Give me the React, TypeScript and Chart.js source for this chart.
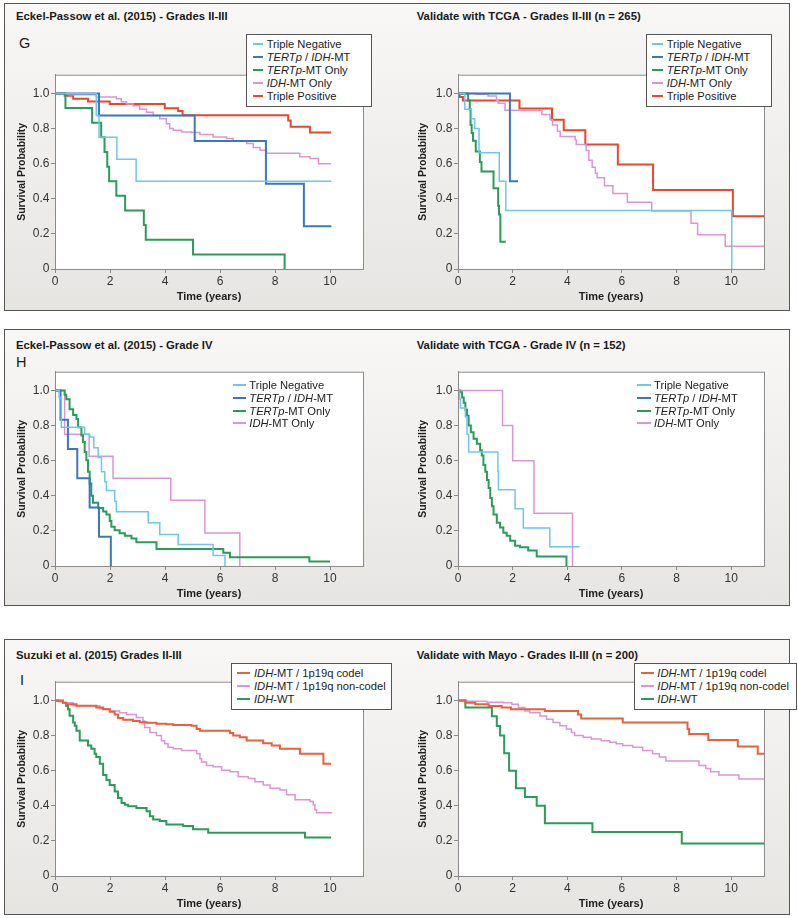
import React, { useEffect, useRef } from 'react';
import { Chart, registerables } from 'chart.js';

Chart.register(...registerables);

const FONT = '"Liberation Sans", Arial, Helvetica, sans-serif';

// ---- colours ----
const C_LIGHTBLUE = '#6fc6e8';
const C_DARKBLUE = '#3b78b8';
const C_GREEN = '#2a9b58';
const C_PINK = '#dc95d4';
const C_RED = '#e8472e';
const C_ORANGE = '#e8603c';

// ---- axis ticks ----
const xTickValues = [0, 2, 4, 6, 8, 10];
const yTickValues = [0, 0.2, 0.4, 0.6, 0.8, 1.0];
const xMax = 11.2;
const yMax = 1.107;
const xAxisTitle = 'Time (years)';
const yAxisTitle = 'Survival Probability';

// ---- titles / legends ----
const titleGL = 'Eckel-Passow et al. (2015) - Grades II-III';
const titleGR = 'Validate with TCGA - Grades II-III (n = 265)';
const titleHL = 'Eckel-Passow et al. (2015) - Grade IV';
const titleHR = 'Validate with TCGA - Grade IV (n = 152)';
const titleIL = 'Suzuki et al. (2015) Grades II-III';
const titleIR = 'Validate with Mayo - Grades II-III (n = 200)';
const legendGH = ['Triple Negative', '_TERTp_ / _IDH_-MT', '_TERTp_-MT Only', '_IDH_-MT Only', 'Triple Positive'];
const legendI = ['_IDH_-MT / 1p19q codel', '_IDH_-MT / 1p19q non-codel', '_IDH_-WT'];

// ---- G left: Eckel-Passow Grades II-III ----
const gL_tripleNegative = [[0, 1], [1.5, 0.875], [1.6, 0.75], [2.25, 0.625], [2.95, 0.5], [10.05, 0.5]];
const gL_tertpIdh = [[0, 1], [1.6, 0.875], [5.08, 0.729], [7.67, 0.486], [9.05, 0.243], [10.05, 0.243]];
const gL_tertpOnly = [[0, 1], [0.38, 0.917], [1.35, 0.833], [1.68, 0.75], [1.8, 0.667], [1.9, 0.583], [1.97, 0.5], [2.23, 0.417], [2.55, 0.333], [3.23, 0.25], [3.3, 0.167], [5.02, 0.083], [8.35, 0]];
const gL_idhOnly = [[0, 1], [0.53, 0.993], [1.5, 0.98], [2.23, 0.97], [2.41, 0.953], [2.6, 0.94], [2.84, 0.93], [3.08, 0.91], [3.33, 0.893], [3.57, 0.874], [3.81, 0.856], [4.05, 0.827], [4.17, 0.8], [4.3, 0.79], [4.6, 0.78], [4.96, 0.777], [5.27, 0.767], [5.75, 0.752], [6.24, 0.743], [6.48, 0.728], [6.97, 0.715], [7.21, 0.692], [7.45, 0.677], [7.69, 0.659], [8.9, 0.64], [9.27, 0.63], [9.58, 0.6], [10.04, 0.6]];
const gL_triplePositive = [[0, 1], [0.35, 0.987], [0.66, 0.97], [1.2, 0.955], [1.99, 0.94], [3.99, 0.916], [4.48, 0.9], [4.64, 0.876], [8.48, 0.846], [8.57, 0.81], [9.27, 0.778], [10.04, 0.778]];

// ---- G right: TCGA Grades II-III ----
const gR_tripleNegative = [[0, 1], [0.25, 0.91], [0.49, 0.856], [0.61, 0.8], [0.77, 0.662], [1.51, 0.5], [1.75, 0.333], [10.02, 0.333], [10.02, 0]];
const gR_tertpIdh = [[0, 1], [1.9, 0.5], [2.2, 0.5]];
const gR_tertpOnly = [[0, 1], [0.37, 0.96], [0.43, 0.91], [0.46, 0.82], [0.5, 0.775], [0.55, 0.73], [0.65, 0.67], [0.8, 0.61], [0.86, 0.556], [1.3, 0.46], [1.47, 0.36], [1.5, 0.31], [1.55, 0.155], [1.75, 0.155]];
const gR_idhOnly = [[0, 1], [0.67, 0.995], [1.1, 0.985], [1.41, 0.96], [1.47, 0.945], [1.72, 0.905], [3.07, 0.88], [3.37, 0.85], [3.46, 0.82], [3.64, 0.785], [3.74, 0.755], [4.29, 0.735], [4.33, 0.71], [4.69, 0.675], [4.79, 0.62], [4.91, 0.58], [5.03, 0.545], [5.09, 0.52], [5.36, 0.475], [5.67, 0.43], [6.2, 0.38], [7.09, 0.33], [8.53, 0.26], [8.77, 0.195], [9.78, 0.13], [11.2, 0.13]];
const gR_triplePositive = [[0, 1], [0.06, 0.98], [0.18, 0.96], [2.25, 0.915], [3.44, 0.85], [3.87, 0.79], [4.66, 0.71], [5.85, 0.595], [7.14, 0.45], [10.06, 0.3], [11.2, 0.3]];

// ---- H left: Eckel-Passow Grade IV ----
const hL_tripleNegative = [[0, 1], [0.15, 0.96], [0.23, 0.79], [1.08, 0.75], [1.26, 0.735], [1.41, 0.674], [1.57, 0.618], [1.69, 0.537], [1.81, 0.48], [1.87, 0.43], [2.17, 0.369], [2.23, 0.309], [3.39, 0.247], [3.81, 0.18], [4.48, 0.122], [5.75, 0.06], [6.18, 0]];
const hL_tertpIdh = [[0, 1], [0.2, 0.833], [0.47, 0.667], [0.81, 0.5], [1.26, 0.333], [1.6, 0.167], [2.03, 0]];
const hL_tertpOnly = [[0, 1], [0.35, 0.975], [0.41, 0.95], [0.53, 0.893], [0.66, 0.86], [0.78, 0.837], [0.84, 0.79], [0.96, 0.743], [1.02, 0.706], [1.08, 0.65], [1.14, 0.603], [1.2, 0.537], [1.26, 0.47], [1.32, 0.4], [1.38, 0.36], [1.57, 0.33], [1.75, 0.31], [1.87, 0.294], [1.99, 0.257], [2.05, 0.223], [2.17, 0.204], [2.35, 0.187], [2.54, 0.172], [2.78, 0.157], [2.96, 0.135], [3.69, 0.097], [6.12, 0.075], [6.36, 0.05], [9.25, 0.026], [10.0, 0.026]];
const hL_idhOnly = [[0, 1], [0.35, 0.75], [1.24, 0.625], [2.11, 0.5], [4.21, 0.375], [5.45, 0.1875], [6.72, 0]];

// ---- H right: TCGA Grade IV ----
const hR_tripleNegative = [[0, 1], [0.06, 0.95], [0.09, 0.9], [0.27, 0.85], [0.33, 0.75], [0.39, 0.65], [1.46, 0.54], [1.48, 0.435], [2.09, 0.326], [2.39, 0.217], [3.36, 0.109], [4.45, 0.109]];
const hR_tertpIdh = [];
const hR_tertpOnly = [[0, 1], [0.08, 0.99], [0.15, 0.96], [0.21, 0.93], [0.27, 0.89], [0.33, 0.856], [0.39, 0.8], [0.47, 0.762], [0.57, 0.725], [0.69, 0.697], [0.81, 0.66], [0.87, 0.63], [0.93, 0.575], [1.0, 0.537], [1.06, 0.49], [1.12, 0.444], [1.18, 0.388], [1.24, 0.34], [1.3, 0.294], [1.42, 0.247], [1.54, 0.219], [1.66, 0.19], [1.78, 0.172], [1.91, 0.144], [2.09, 0.116], [2.27, 0.107], [2.57, 0.088], [2.88, 0.054], [3.97, 0]];
const hR_idhOnly = [[0, 1], [1.63, 0.8], [2.0, 0.6], [2.78, 0.3], [4.19, 0]];

// ---- I left: Suzuki Grades II-III ----
const iL_codel = [[0, 1], [0.11, 0.995], [0.29, 0.987], [0.41, 0.978], [0.78, 0.97], [1.5, 0.96], [1.75, 0.95], [1.99, 0.936], [2.17, 0.92], [2.29, 0.9], [2.48, 0.89], [2.84, 0.883], [3.08, 0.876], [3.33, 0.873], [3.69, 0.867], [4.05, 0.865], [4.3, 0.86], [4.96, 0.856], [5.15, 0.837], [5.27, 0.828], [6.36, 0.815], [6.48, 0.8], [6.72, 0.79], [6.97, 0.772], [7.57, 0.757], [7.88, 0.743], [8.18, 0.725], [8.91, 0.697], [9.76, 0.64], [10.04, 0.64]];
const iL_nonCodel = [[0, 1], [0.29, 0.987], [0.66, 0.97], [1.63, 0.953], [1.99, 0.94], [2.35, 0.93], [2.6, 0.92], [2.96, 0.903], [3.2, 0.883], [3.26, 0.846], [3.45, 0.818], [3.69, 0.8], [3.87, 0.77], [3.99, 0.753], [4.11, 0.734], [4.3, 0.725], [4.6, 0.715], [5.15, 0.697], [5.27, 0.668], [5.33, 0.65], [5.51, 0.63], [5.75, 0.622], [6.06, 0.603], [6.36, 0.594], [6.66, 0.566], [7.03, 0.556], [7.27, 0.537], [7.57, 0.519], [7.82, 0.5], [8.18, 0.49], [8.42, 0.463], [8.73, 0.434], [9.27, 0.425], [9.39, 0.406], [9.45, 0.378], [9.51, 0.36], [10.04, 0.355]];
const iL_wt = [[0, 1], [0.29, 0.987], [0.41, 0.968], [0.47, 0.95], [0.53, 0.913], [0.66, 0.874], [0.72, 0.856], [0.78, 0.828], [0.9, 0.772], [1.2, 0.743], [1.32, 0.725], [1.44, 0.697], [1.5, 0.678], [1.63, 0.64], [1.75, 0.575], [1.87, 0.547], [1.99, 0.519], [2.17, 0.481], [2.29, 0.444], [2.42, 0.416], [2.54, 0.406], [2.66, 0.397], [2.96, 0.388], [3.33, 0.369], [3.45, 0.341], [3.57, 0.322], [3.81, 0.313], [4.05, 0.294], [4.66, 0.285], [5.02, 0.266], [5.57, 0.247], [9.09, 0.219], [10.04, 0.219]];

// ---- I right: Mayo Grades II-III ----
const iR_codel = [[0, 1], [0.27, 0.987], [0.63, 0.978], [1.12, 0.968], [1.6, 0.96], [1.94, 0.95], [3.18, 0.94], [4.39, 0.92], [4.51, 0.897], [6.03, 0.874], [8.4, 0.837], [8.46, 0.809], [9.16, 0.775], [10.24, 0.738], [10.97, 0.697], [11.2, 0.697]];
const iR_nonCodel = [[0, 1], [0.33, 0.996], [1.06, 0.99], [1.66, 0.987], [1.97, 0.978], [2.21, 0.96], [2.45, 0.94], [2.63, 0.93], [3.0, 0.912], [3.24, 0.893], [3.48, 0.874], [3.73, 0.856], [3.97, 0.837], [4.15, 0.818], [4.27, 0.8], [4.58, 0.79], [4.88, 0.78], [5.24, 0.77], [5.55, 0.762], [5.79, 0.753], [6.03, 0.743], [6.4, 0.734], [6.76, 0.715], [7.12, 0.697], [7.37, 0.678], [7.61, 0.655], [8.82, 0.63], [9.07, 0.612], [9.25, 0.594], [9.55, 0.575], [10.28, 0.552], [11.2, 0.552]];
const iR_wt = [[0, 1], [0.27, 0.96], [1.24, 0.91], [1.42, 0.855], [1.54, 0.8], [1.69, 0.7], [1.87, 0.6], [2.12, 0.5], [2.45, 0.45], [2.88, 0.4], [3.18, 0.3], [4.92, 0.25], [8.19, 0.185], [11.2, 0.185]];

const colorsGH = [C_LIGHTBLUE, C_DARKBLUE, C_GREEN, C_PINK, C_RED];
const widthsGH = [1.5, 2, 2, 1.5, 2];
const colorsI = [C_ORANGE, C_PINK, C_GREEN];
const widthsI = [2, 1.5, 2];

const PADL = 52;
const PADT = 6;
const PADR = 8;
const XH = 40;

const framePlugin = {
  id: 'kmFrame',
  beforeDraw(chart: any) {
    const { ctx, chartArea: a } = chart;
    ctx.save();
    ctx.fillStyle = '#ffffff';
    ctx.fillRect(a.left, a.top, a.right - a.left, a.bottom - a.top);
    ctx.restore();
  },
  afterDraw(chart: any) {
    const { ctx, chartArea: a } = chart;
    ctx.save();
    ctx.strokeStyle = '#8a8a8a';
    ctx.lineWidth = 1;
    ctx.strokeRect(a.left + 0.5, a.top + 0.5, a.right - a.left, a.bottom - a.top);
    ctx.restore();
  },
};

type Area = { l: number; t: number; r: number; b: number };

function KMChart({ area, series, colors, widths, yTitleCenter }: { area: Area; series: number[][][]; colors: string[]; widths: number[]; yTitleCenter: number }) {
  const ref = useRef<HTMLCanvasElement>(null);
  const cw = area.r - area.l + PADL + PADR;
  const ch = area.b - area.t + PADT + XH;
  useEffect(() => {
    const tickFont = { family: FONT, size: 12 };
    const chart = new Chart(ref.current as HTMLCanvasElement, {
      type: 'line',
      data: {
        datasets: series.map((pts, i) => ({
          data: pts.map(([x, y]) => ({ x, y })),
          borderColor: colors[i],
          backgroundColor: colors[i],
          borderWidth: widths[i],
          stepped: 'before',
          pointRadius: 0,
          fill: false,
          tension: 0,
        })),
      },
      options: {
        responsive: false,
        animation: false,
        devicePixelRatio: 1,
        events: [],
        layout: { padding: { left: 0, top: PADT, right: PADR, bottom: 0 } },
        plugins: { legend: { display: false }, tooltip: { enabled: false }, title: { display: false } },
        scales: {
          x: {
            type: 'linear',
            min: 0,
            max: xMax,
            afterBuildTicks: (s: any) => { s.ticks = xTickValues.map((v) => ({ value: v })); },
            afterFit: (s: any) => { s.height = XH; },
            ticks: { callback: (v: any) => String(v), font: tickFont, color: '#333', padding: 1.5, maxRotation: 0, autoSkip: false },
            grid: { drawOnChartArea: false, drawTicks: true, tickLength: 4, color: '#8a8a8a' },
            border: { display: true, color: '#8a8a8a' },
            title: { display: true, text: xAxisTitle, font: { family: FONT, size: 11, weight: 'bold' }, color: '#1e1e1e', padding: { top: 0, bottom: 5.4 } },
          },
          y: {
            type: 'linear',
            min: 0,
            max: yMax,
            afterBuildTicks: (s: any) => { s.ticks = yTickValues.map((v) => ({ value: v })); },
            afterFit: (s: any) => { s.width = PADL; },
            ticks: { callback: (v: any) => (v === 0 ? '0' : Number(v).toFixed(1)), font: tickFont, color: '#333', padding: 1.5, autoSkip: false },
            grid: { drawOnChartArea: false, drawTicks: true, tickLength: 4, color: '#8a8a8a' },
            border: { display: true, color: '#8a8a8a' },
            title: { display: true, text: yAxisTitle, font: { family: FONT, size: 10.5, weight: 'bold' }, color: '#1e1e1e', padding: { top: yTitleCenter - (area.l - PADL) - 6.3, bottom: 0 } },
          },
        },
      },
      plugins: [framePlugin],
    } as any);
    return () => chart.destroy();
  }, []);
  return (
    <canvas
      ref={ref}
      width={cw}
      height={ch}
      style={{ position: 'absolute', left: area.l - PADL, top: area.t - PADT, width: cw, height: ch }}
    />
  );
}

function RichLabel({ text }: { text: string }) {
  const parts = text.split('_');
  return (
    <>
      {parts.map((p, i) => (i % 2 === 1 ? <i key={i}>{p}</i> : <span key={i}>{p}</span>))}
    </>
  );
}

function Legend({ labels, colors, box, lineX, lineW, textX, firstY, rowH }: { labels: string[]; colors: string[]; box?: { x: number; y: number; w: number; h: number }; lineX: number; lineW: number; textX: number; firstY: number; rowH: number }) {
  return (
    <>
      {box && (
        <div style={{ position: 'absolute', left: box.x, top: box.y, width: box.w, height: box.h, boxSizing: 'border-box', border: '1px solid #555', background: '#fff' }} />
      )}
      {labels.map((lab, i) => {
        const cy = firstY + i * rowH;
        return (
          <React.Fragment key={i}>
            <div style={{ position: 'absolute', left: lineX, top: cy - 1, width: lineW, height: 2, background: colors[i] }} />
            <div style={{ position: 'absolute', left: textX, top: cy - 6, height: 12, lineHeight: '12px', fontSize: 11.2, color: '#222', whiteSpace: 'nowrap', fontFamily: FONT }}>
              <RichLabel text={lab} />
            </div>
          </React.Fragment>
        );
      })}
    </>
  );
}

function Title({ x, y, text }: { x: number; y: number; text: string }) {
  return (
    <div style={{ position: 'absolute', left: x, top: y, fontSize: 11.3, lineHeight: '11.3px', fontWeight: 'bold', color: '#1a1a1a', whiteSpace: 'nowrap', fontFamily: FONT }}>
      {text}
    </div>
  );
}

function Letter({ x, y, text }: { x: number; y: number; text: string }) {
  return (
    <div style={{ position: 'absolute', left: x, top: y, fontSize: 14.5, lineHeight: '14.5px', color: '#1a1a1a', fontFamily: FONT }}>
      {text}
    </div>
  );
}

function Panel({ top, height }: { top: number; height: number }) {
  return (
    <div
      style={{
        position: 'absolute',
        left: 4,
        top,
        width: 786,
        height,
        boxSizing: 'border-box',
        border: '1px solid #555',
        background: 'linear-gradient(to bottom, #f8f7f6 0%, #e7e5e2 100%)',
      }}
    />
  );
}

export default function App() {
  const GL: Area = { l: 55, t: 72, r: 363, b: 269 };
  const GR: Area = { l: 458, t: 72, r: 764, b: 269 };
  const HL: Area = { l: 55, t: 369, r: 363, b: 566 };
  const HR: Area = { l: 458, t: 369, r: 764, b: 566 };
  const IL: Area = { l: 55, t: 679, r: 363, b: 876 };
  const IR: Area = { l: 458, t: 679, r: 764, b: 876 };
  return (
    <div style={{ position: 'absolute', left: 0, top: 0, width: 798, height: 918, background: '#fff', fontFamily: FONT, overflow: 'hidden' }}>
      <Panel top={3} height={308} />
      <Panel top={329} height={277} />
      <Panel top={639} height={276} />

      <Title x={16} y={11} text={titleGL} />
      <Title x={416.7} y={11} text={titleGR} />
      <Title x={16} y={339.5} text={titleHL} />
      <Title x={416.7} y={339.5} text={titleHR} />
      <Title x={16} y={649.5} text={titleIL} />
      <Title x={416.7} y={649.5} text={titleIR} />

      <Letter x={19} y={36.4} text="G" />
      <Letter x={16} y={354.8} text="H" />
      <Letter x={20} y={673} text="I" />

      <KMChart area={GL} series={[gL_tripleNegative, gL_tertpIdh, gL_tertpOnly, gL_idhOnly, gL_triplePositive]} colors={colorsGH} widths={widthsGH} yTitleCenter={21.7} />
      <KMChart area={GR} series={[gR_tripleNegative, gR_tertpIdh, gR_tertpOnly, gR_idhOnly, gR_triplePositive]} colors={colorsGH} widths={widthsGH} yTitleCenter={423.3} />
      <KMChart area={HL} series={[hL_tripleNegative, hL_tertpIdh, hL_tertpOnly, hL_idhOnly]} colors={colorsGH} widths={widthsGH} yTitleCenter={21.7} />
      <KMChart area={HR} series={[hR_tripleNegative, hR_tertpIdh, hR_tertpOnly, hR_idhOnly]} colors={colorsGH} widths={widthsGH} yTitleCenter={423.3} />
      <KMChart area={IL} series={[iL_codel, iL_nonCodel, iL_wt]} colors={colorsI} widths={widthsI} yTitleCenter={21.7} />
      <KMChart area={IR} series={[iR_codel, iR_nonCodel, iR_wt]} colors={colorsI} widths={widthsI} yTitleCenter={423.3} />

      <Legend labels={legendGH} colors={colorsGH} box={{ x: 246, y: 34, w: 126, h: 73 }} lineX={252.7} lineW={10.6} textX={266.7} firstY={44} rowH={13} />
      <Legend labels={legendGH} colors={colorsGH} box={{ x: 645.5, y: 34, w: 126, h: 73 }} lineX={651.7} lineW={11.6} textX={666.7} firstY={44} rowH={13} />
      <Legend labels={legendGH.slice(0, 4)} colors={colorsGH} lineX={232.7} lineW={13.3} textX={249.3} firstY={385} rowH={12.8} />
      <Legend labels={legendGH.slice(0, 4)} colors={colorsGH} lineX={637.3} lineW={13.4} textX={654} firstY={385} rowH={12.8} />
      <Legend labels={legendI} colors={colorsI} box={{ x: 231.3, y: 662.7, w: 161, h: 47.3 }} lineX={236.7} lineW={13.3} textX={254} firstY={673.3} rowH={13} />
      <Legend labels={legendI} colors={colorsI} box={{ x: 634.3, y: 662.7, w: 162.4, h: 47.3 }} lineX={640.7} lineW={13.3} textX={657.3} firstY={673.3} rowH={13} />
    </div>
  );
}
